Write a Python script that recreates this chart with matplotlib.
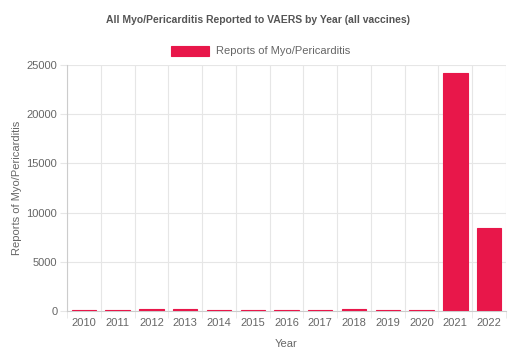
import matplotlib.pyplot as plt

years = ['2010', '2011', '2012', '2013', '2014', '2015', '2016',
         '2017', '2018', '2019', '2020', '2021', '2022']
reports = [90, 100, 210, 200, 110, 100, 80, 110, 190, 100, 110, 24200, 8450]
yticks = [0, 5000, 10000, 15000, 20000, 25000]

plt.rcParams['font.family'] = ['Liberation Sans', 'DejaVu Sans']

fig = plt.figure(figsize=(5.3, 3.55), dpi=100)
ax = fig.add_axes([67 / 530, 1 - 311 / 355, (506 - 67) / 530, (311 - 65) / 355])

bar_color = '#e8174a'
x = list(range(len(years)))
ax.bar(x, reports, width=0.72, color=bar_color, edgecolor=bar_color,
       linewidth=0.8, label='Reports of Myo/Pericarditis', zorder=3)

ax.set_xlim(-0.5, len(years) - 0.5)
ax.set_ylim(0, 25000)
ax.set_yticks(yticks)
ax.set_yticklabels([str(v) for v in yticks])
ax.set_xticks(x)
ax.set_xticklabels(years)

# vertical grid lines sit between categories, like the source chart
ax.set_xticks([i - 0.5 for i in range(len(years) + 1)], minor=True)
ax.grid(True, which='minor', axis='x', color='#e6e6e6', linewidth=0.8, zorder=0)
ax.grid(True, which='major', axis='y', color='#e6e6e6', linewidth=0.8, zorder=0)
ax.tick_params(axis='x', which='major', length=0, labelsize=8, colors='#666666', pad=5)
ax.tick_params(axis='x', which='minor', length=5, color='#e6e6e6')
ax.tick_params(axis='y', length=5, color='#e6e6e6', labelsize=8, labelcolor='#666666', pad=2)

for side in ['top', 'right']:
    ax.spines[side].set_visible(False)
for side in ['left', 'bottom']:
    ax.spines[side].set_color('#cccccc')
    ax.spines[side].set_linewidth(0.8)

ax.set_xlabel('Year', fontsize=8, color='#666666', labelpad=8)
ax.set_ylabel('Reports of Myo/Pericarditis', fontsize=8, color='#666666', labelpad=3)

fig.text(0.487, 1 - 20 / 355, 'All Myo/Pericarditis Reported to VAERS by Year (all vaccines)',
         ha='center', va='center', fontsize=7.5, fontweight='bold', color='#555555')

fig.legend(loc='center', bbox_to_anchor=(0.492, 1 - 51 / 355), frameon=False,
           fontsize=8, handlelength=3.4, handleheight=1.0, handletextpad=0.6,
           labelcolor='#666666')

fig.savefig('out.png', dpi=100)
